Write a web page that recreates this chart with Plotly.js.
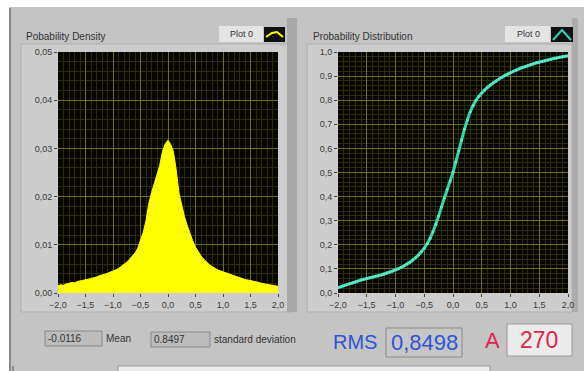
<!DOCTYPE html>
<html>
<head>
<meta charset="utf-8">
<script src="https://cdn.plot.ly/plotly-3.0.1.min.js"></script>
<style>
  html, body { margin: 0; padding: 0; background: #ffffff; }
  #panel { width: 584px; height: 371px; }
</style>
</head>
<body>
<div id="panel"></div>
<script>
// Sample positions shared by both graphs
const xValues = [
  -2.00,-1.95,-1.90,-1.85,-1.80,-1.75,-1.70,-1.65,-1.60,-1.55,
  -1.50,-1.45,-1.40,-1.35,-1.30,-1.25,-1.20,-1.15,-1.10,-1.05,
  -1.00,-0.95,-0.90,-0.85,-0.80,-0.75,-0.70,-0.65,-0.60,-0.55,
  -0.50,-0.45,-0.40,-0.35,-0.30,-0.25,-0.20,-0.15,-0.10,-0.05,
   0.00, 0.05, 0.10, 0.15, 0.20, 0.25, 0.30, 0.35, 0.40, 0.45,
   0.50, 0.55, 0.60, 0.65, 0.70, 0.75, 0.80, 0.85, 0.90, 0.95,
   1.00, 1.05, 1.10, 1.15, 1.20, 1.25, 1.30, 1.35, 1.40, 1.45,
   1.50, 1.55, 1.60, 1.65, 1.70, 1.75, 1.80, 1.85, 1.90, 1.95, 2.00
];

// Probability density (histogram estimate)
const densityValues = [
  0.0015,0.0017,0.0016,0.0019,0.0020,0.0022,0.0021,0.0024,0.0025,0.0026,
  0.0027,0.0029,0.0030,0.0032,0.0033,0.0036,0.0037,0.0039,0.0041,0.0043,
  0.0045,0.0048,0.0051,0.0055,0.0059,0.0064,0.0070,0.0076,0.0083,0.0093,
  0.0108,0.0126,0.0150,0.0185,0.0208,0.0226,0.0244,0.0265,0.0294,0.0310,
  0.0317,0.0308,0.0292,0.0255,0.0207,0.0180,0.0158,0.0140,0.0123,0.0108,
  0.0095,0.0085,0.0077,0.0070,0.0064,0.0059,0.0055,0.0051,0.0048,0.0046,
  0.0044,0.0041,0.0039,0.0037,0.0035,0.0033,0.0031,0.0030,0.0028,0.0027,
  0.0026,0.0024,0.0023,0.0022,0.0020,0.0019,0.0018,0.0017,0.0016,0.0015,0.0014
];

// Cumulative probability distribution
const distributionValues = [
  0.022,0.026,0.030,0.034,0.038,0.042,0.046,0.050,0.054,0.057,
  0.060,0.063,0.066,0.069,0.072,0.075,0.079,0.083,0.087,0.091,
  0.096,0.101,0.107,0.113,0.120,0.128,0.137,0.147,0.158,0.171,
  0.186,0.204,0.226,0.253,0.285,0.320,0.357,0.394,0.430,0.465,
  0.500,0.545,0.590,0.635,0.680,0.718,0.752,0.778,0.800,0.816,
  0.830,0.842,0.853,0.863,0.872,0.880,0.888,0.895,0.902,0.908,
  0.914,0.920,0.925,0.930,0.935,0.939,0.943,0.947,0.951,0.955,
  0.958,0.961,0.964,0.967,0.970,0.973,0.975,0.978,0.980,0.982,0.984
];

const xTickValues = [-2.0,-1.5,-1.0,-0.5,0.0,0.5,1.0,1.5,2.0];

// Indicator readouts
const meanText = "-0.0116";
const stdText = "0.8497";
const rmsText = "0,8498";
const ampText = "270";

const W = 584, H = 371;
const px = v => v / W;
const py = v => 1 - v / H;

const FAMILY = "Liberation Sans, Arial, sans-serif";
const labelFont = { family: FAMILY, size: 9, color: "#3a3a3a" };
const majorGrid = "#6f6f18";
const minorGrid = "#2c2c0a";

function axisX(domain, anchor) {
  return {
    domain: domain, anchor: anchor, range: [-2, 2],
    tickvals: xTickValues, tickformat: ".1f",
    ticks: "outside", ticklen: 3, tickcolor: "#444", tickwidth: 1,
    showgrid: true, gridcolor: majorGrid, gridwidth: 1,
    minor: { dtick: 0.1, showgrid: true, gridcolor: minorGrid, gridwidth: 1 },
    zeroline: false, showline: false, fixedrange: true,
    tickfont: labelFont
  };
}

const traces = [
  {
    x: xValues, y: densityValues, xaxis: "x", yaxis: "y",
    type: "scatter", mode: "lines", fill: "tozeroy",
    line: { color: "#ffff00", width: 1 }, fillcolor: "#ffff00",
    hoverinfo: "skip"
  },
  {
    x: xValues, y: distributionValues, xaxis: "x2", yaxis: "y2",
    type: "scatter", mode: "lines+markers",
    line: { color: "#2ed6b4", width: 3, shape: "spline", smoothing: 0.6 },
    marker: { color: "#5fe8cc", size: 3 },
    hoverinfo: "skip"
  }
];

function rect(x0, x1, y0, y1, fill, lineColor, layer) {
  return { type: "rect", xref: "paper", yref: "paper", x0: px(x0), x1: px(x1), y0: py(y1), y1: py(y0),
           fillcolor: fill, line: lineColor ? { color: lineColor, width: 1 } : { width: 0 }, layer: layer || "below" };
}

const shapes = [
  // white margins at top and left
  rect(0, 584, 0, 7, "#ffffff"),
  rect(0, 9, 0, 371, "#ffffff"),
  // outer frame edge
  { type: "line", xref: "paper", yref: "paper", x0: px(10), x1: px(10), y0: 0, y1: py(8), line: { color: "#8a8a8a", width: 2 }, layer: "below" },
  // graph frames
  rect(21, 293, 44, 312, "#cdcdcd", "#b0b0b0"),
  rect(287, 297, 18, 312, "#a9a9a9"),
  rect(307, 572, 44, 312, "#cdcdcd", "#b0b0b0"),
  rect(572, 578, 18, 312, "#acacac"),
  // plotting areas
  rect(58, 278, 52, 293, "#070700"),
  rect(338, 568, 52, 293, "#070700"),
  // legend boxes
  rect(219, 263, 26, 42, "#e4e4e4", null, "above"),
  rect(264, 285, 27, 42, "#111111", null, "above"),
  { type: "path", xref: "paper", yref: "paper",
    path: "M " + px(266) + "," + py(37) + " L " + px(272) + "," + py(33) + " L " + px(277) + "," + py(32) + " L " + px(283) + "," + py(37),
    line: { color: "#ffff00", width: 2 } },
  rect(505, 550, 26, 42, "#e4e4e4", null, "above"),
  rect(551, 573, 27, 42, "#111111", null, "above"),
  { type: "path", xref: "paper", yref: "paper",
    path: "M " + px(553) + "," + py(40) + " L " + px(562) + "," + py(30) + " L " + px(571) + "," + py(40),
    line: { color: "#2ed6b4", width: 2 } },
  // readout boxes
  rect(45, 102, 331, 346, "#bcbcbc", "#8a8a8a", "above"),
  rect(151, 210, 332, 347, "#bcbcbc", "#8a8a8a", "above"),
  rect(386, 462, 328, 357, "#c6c6c6", "#8a8a8a", "above"),
  rect(507, 572, 324, 356, "#ececec", "#9a9a9a", "above"),
  // bottom bar
  rect(118, 490, 366, 372, "#ececec", "#9a9a9a", "above"),
  { type: "line", xref: "paper", yref: "paper", x0: px(13), x1: px(13), y0: 0, y1: py(366), line: { color: "#555", width: 1 } }
];

const textFont = { family: FAMILY, size: 10, color: "#333333" };
function label(x, y, text, font, anchor) {
  return { xref: "paper", yref: "paper", x: px(x), y: py(y), text: text, showarrow: false,
           xanchor: anchor || "left", yanchor: "middle", font: font || textFont };
}

const annotations = [
  label(24, 36, "Pobability Density"),
  label(311, 36, "Probability Distribution"),
  label(241, 34, "Plot 0", { family: FAMILY, size: 9, color: "#333" }, "center"),
  label(528, 34, "Plot 0", { family: FAMILY, size: 9, color: "#333" }, "center"),
  label(46, 338, meanText),
  label(104, 338, "Mean"),
  label(152, 339, stdText),
  label(212, 339, "standard deviation"),
  label(331, 342, "RMS", { family: FAMILY, size: 20, color: "#2e55d6" }),
  label(424, 342, rmsText, { family: FAMILY, size: 22, color: "#2e55d6" }, "center"),
  label(483, 340, "A", { family: FAMILY, size: 22, color: "#e0234e" }),
  label(539, 340, ampText, { family: FAMILY, size: 23, color: "#e0234e" }, "center")
];

const layout = {
  width: W, height: H,
  margin: { l: 0, r: 0, t: 0, b: 0 },
  paper_bgcolor: "#c4c4c4",
  plot_bgcolor: "rgba(0,0,0,0)",
  showlegend: false,
  separators: ", ",
  xaxis: axisX([px(58), px(278)], "y"),
  yaxis: {
    domain: [py(293), py(52)], anchor: "x", range: [0, 0.05],
    dtick: 0.01, tickformat: ".2f",
    ticks: "outside", ticklen: 3, tickcolor: "#444",
    showgrid: true, gridcolor: majorGrid,
    minor: { dtick: 0.002, showgrid: true, gridcolor: minorGrid },
    zeroline: false, fixedrange: true, tickfont: labelFont
  },
  xaxis2: axisX([px(338), px(568)], "y2"),
  yaxis2: {
    domain: [py(293), py(52)], anchor: "x2", range: [0, 1.0],
    dtick: 0.1, tickformat: ".1f",
    ticks: "outside", ticklen: 3, tickcolor: "#444",
    showgrid: true, gridcolor: majorGrid,
    minor: { dtick: 0.02, showgrid: true, gridcolor: minorGrid },
    zeroline: false, fixedrange: true, tickfont: labelFont
  },
  shapes: shapes,
  annotations: annotations
};

Plotly.newPlot("panel", traces, layout, { staticPlot: true, displayModeBar: false });
</script>
</body>
</html>
